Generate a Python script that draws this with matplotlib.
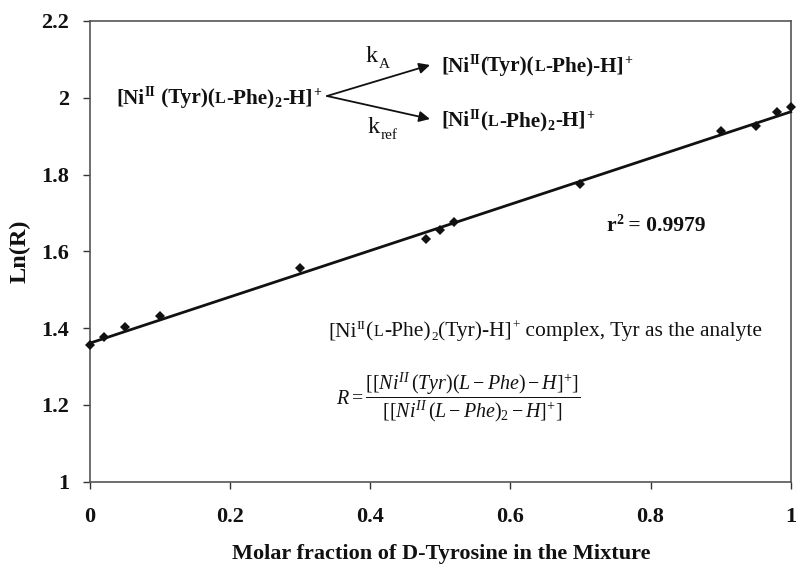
import matplotlib
matplotlib.use('Agg')
import matplotlib.pyplot as plt
from matplotlib.transforms import IdentityTransform

plt.rcParams['font.family'] = ['Liberation Serif', 'DejaVu Serif']
plt.rcParams['mathtext.fontset'] = 'custom'
plt.rcParams['mathtext.rm'] = 'Liberation Serif'
plt.rcParams['mathtext.it'] = 'Liberation Serif:italic'
plt.rcParams['mathtext.bf'] = 'Liberation Serif:bold'

molar_fraction = [0, 0.02, 0.05, 0.1, 0.3, 0.48, 0.5, 0.52, 0.7, 0.9, 0.95, 0.98, 1]
ln_r = [1.356, 1.376, 1.404, 1.432, 1.557, 1.632, 1.655, 1.676, 1.775, 1.914, 1.927, 1.9635, 1.976]
fit_x = [0, 1]
fit_y = [1.361, 1.9635]
x_ticks = [0, 0.2, 0.4, 0.6, 0.8, 1]
x_tick_labels = ['0', '0.2', '0.4', '0.6', '0.8', '1']
y_ticks = [1, 1.2, 1.4, 1.6, 1.8, 2, 2.2]
y_tick_labels = ['1', '1.2', '1.4', '1.6', '1.8', '2', '2.2']

W, H = 796, 566
BLACK = '#111111'
FRAME = '#555555'


# 小さな文字や上付きが混ざるラベルを左から順に並べる (座標は画像のピクセル)
def draw_pieces(fig, px, py, pieces, weight='bold'):
    renderer = fig.canvas.get_renderer()
    x = px
    for text, size, rise in pieces:
        t = fig.text(x, H - py + rise, text, fontsize=size, fontweight=weight,
                     color=BLACK, transform=IdentityTransform(), va='baseline', ha='left')
        x += t.get_window_extent(renderer).width + 0.4
    return x


fig = plt.figure(figsize=(W / 100, H / 100), dpi=100)
ax = fig.add_axes([90 / W, 1 - 481.7 / H, 700.7 / W, 460.7 / H])

ax.plot(fit_x, fit_y, color=BLACK, lw=2.0, zorder=3, clip_on=False)
ax.plot(molar_fraction, ln_r, ls='none', marker='D', ms=4.8, color=BLACK, mew=0, zorder=4, clip_on=False)

ax.set_xlim(0, 1)
ax.set_ylim(1, 2.2)
ax.set_xticks(x_ticks)
ax.set_xticklabels(x_tick_labels, fontsize=16, fontweight='bold', color=BLACK)
ax.set_yticks(y_ticks)
ax.set_yticklabels(y_tick_labels, fontsize=16, fontweight='bold', color=BLACK)
ax.tick_params(axis='x', length=5, width=1, color='#333333', pad=13)
ax.tick_params(axis='y', length=5, width=1, color='#333333', pad=10)
for s in ax.spines.values():
    s.set_color(FRAME)
    s.set_linewidth(1.2)

fig.text(441 / W, 1 - 559.5 / H, 'Molar fraction of D-Tyrosine in the Mixture', fontsize=16,
         fontweight='bold', color=BLACK, ha='center', va='baseline')
fig.text(20 / W, 1 - 251 / H, 'Ln(R)', fontsize=17.5, fontweight='bold', color=BLACK,
         rotation=90, ha='center', va='center')

# 反応スキーム
main = 15.2
sup = 10
small = 11.5
draw_pieces(fig, 116, 103, [('[Ni', main, 0), ('II', sup, 7), (' (Tyr)(', main, 0), ('L', small, 0),
                            ('-Phe)', main, 0), ('2', sup, -4), ('-H]', main, 0), ('+', sup, 7)])
draw_pieces(fig, 441, 71, [('[Ni', main, 0), ('II', sup, 7), ('(Tyr)(', main, 0), ('L', small, 0),
                           ('-Phe)-H]', main, 0), ('+', sup, 7)])
draw_pieces(fig, 441, 126, [('[Ni', main, 0), ('II', sup, 7), ('(', main, 0), ('L', small, 0),
                            ('-Phe)', main, 0), ('2', sup, -4), ('-H]', main, 0), ('+', sup, 7)])
draw_pieces(fig, 366, 62, [('k', 17.5, 0), ('A', 11, -6)], weight='normal')
draw_pieces(fig, 368, 133, [('k', 17.5, 0), ('ref', 11, -6)], weight='normal')

for tip in [(430, 65), (430, 119)]:
    ax.annotate('', xy=(tip[0], H - tip[1]), xytext=(327, H - 96), xycoords='figure pixels',
                textcoords='figure pixels',
                arrowprops=dict(arrowstyle='-|>', color=BLACK, lw=1.3, mutation_scale=16,
                                shrinkA=0, shrinkB=0))

draw_pieces(fig, 606, 231, [('r', 15.5, 0), ('2', 10, 7), (' = 0.9979', 15.5, 0)])

draw_pieces(fig, 328, 336, [('[Ni', 15.5, 0), ('II', 9.5, 7), ('(', 15.5, 0), ('L', 11.5, 0), ('-Phe)', 15.5, 0),
                            ('2', 9.5, -4), ('(Tyr)-H]', 15.5, 0), ('+', 9.5, 7),
                            (' complex, Tyr as the analyte', 15.5, 0)], weight='normal')

fig.text(336 / W, 1 - 397 / H,
         r'$R=\dfrac{[[Ni^{II}\,(Tyr)(L-Phe)-H]^{+}]}{[[Ni^{II}\,(L-Phe)_{2}-H]^{+}]}$',
         fontsize=14.4, color=BLACK, ha='left', va='center')

fig.savefig('out.png', dpi=100)
